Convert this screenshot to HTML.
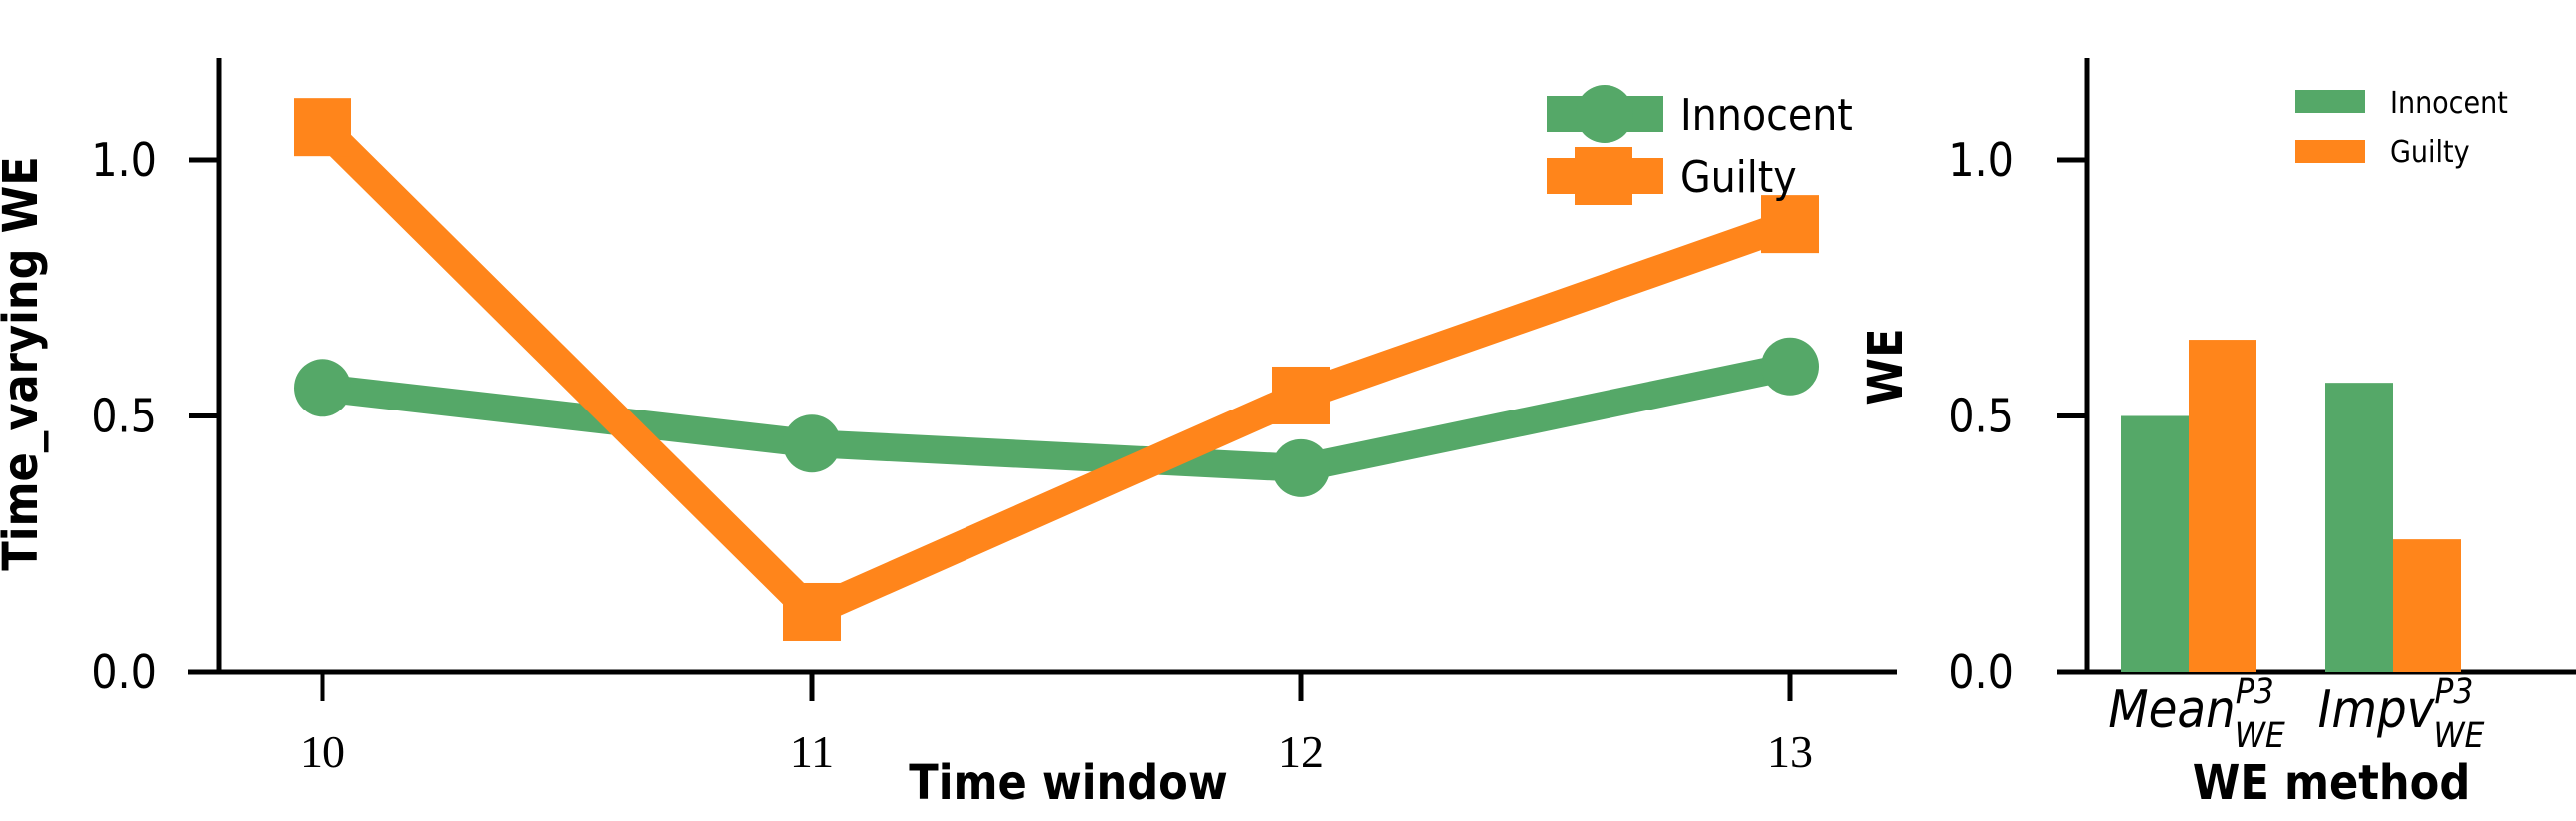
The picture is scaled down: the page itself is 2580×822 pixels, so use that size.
<!DOCTYPE html>
<html><head><meta charset="utf-8"><style>
html,body{margin:0;padding:0;background:#fff;}
svg{display:block;}
text{font-family:"DejaVu Sans Condensed","DejaVu Sans","Liberation Sans",sans-serif;fill:#000;}
</style></head><body>
<svg id="chart" width="2580" height="822" viewBox="0 0 2580 822" xmlns="http://www.w3.org/2000/svg">
<g id="left"></g>
<g id="right"></g>
</svg>
<script>
const windows = [10, 11, 12, 13];
const innocentLine = [0.555, 0.446, 0.398, 0.597];
const guiltyLine = [1.064, 0.117, 0.54, 0.875];
const yTicks = [0.0, 0.5, 1.0];
const yTickLabels = ["0.0", "0.5", "1.0"];
const methods = ["Mean", "Impv"];
const innocentBars = [0.50, 0.565];
const guiltyBars = [0.649, 0.259];

const NS = "http://www.w3.org/2000/svg";
function mk(parent, tag, attrs, txt) {
  const e = document.createElementNS(NS, tag);
  for (const k in attrs) e.setAttribute(k, attrs[k]);
  if (txt !== undefined) e.textContent = txt;
  parent.appendChild(e);
  return e;
}
const GREEN = "#55a868", ORANGE = "#ff851b";
const y = v => 673 - v * 513;
const xL = w => 323 + (w - 10) * 490;

// ---------- left chart ----------
const L = document.getElementById("left");
let e;
e = mk(L, "line", {x1: 219, y1: 58, x2: 219, y2: 675, stroke: "#000", "stroke-width": 5});


e = mk(L, "line", {x1: 188, y1: 673, x2: 1900, y2: 673, stroke: "#000", "stroke-width": 5});


yTicks.forEach((t, i) => {
  e = mk(L, "line", {x1: 189, y1: y(t), x2: 219, y2: y(t), stroke: "#000", "stroke-width": 5});
  
  
  e = mk(L, "text", {x: 157, y: y(t) + 16, "text-anchor": "end", "font-size": 46}, yTickLabels[i]);
  
  
});
windows.forEach(w => {
  e = mk(L, "line", {x1: xL(w), y1: 673, x2: xL(w), y2: 702, stroke: "#000", "stroke-width": 5});
  
  
  e = mk(L, "text", {x: xL(w), y: 768, "text-anchor": "middle", "font-size": 46, style: 'font-family:"Liberation Serif",serif'}, String(w));
  
  
});
// innocent
e = mk(L, "polyline", {points: windows.map((w, i) => xL(w) + "," + y(innocentLine[i])).join(" "), fill: "none", stroke: GREEN, "stroke-width": 28, "stroke-linejoin": "round"});


windows.forEach((w, i) => {
  e = mk(L, "circle", {cx: xL(w), cy: y(innocentLine[i]), r: 29, fill: GREEN});
  
  
});
// guilty
e = mk(L, "polyline", {points: windows.map((w, i) => xL(w) + "," + y(guiltyLine[i])).join(" "), fill: "none", stroke: ORANGE, "stroke-width": 30, "stroke-linejoin": "miter"});


windows.forEach((w, i) => {
  e = mk(L, "rect", {x: xL(w) - 29, y: y(guiltyLine[i]) - 29, width: 58, height: 58, fill: ORANGE});
  
  
});
// legend
e = mk(L, "line", {x1: 1549, y1: 114, x2: 1666, y2: 114, stroke: GREEN, "stroke-width": 36});


e = mk(L, "circle", {cx: 1607, cy: 114, r: 29, fill: GREEN});


e = mk(L, "text", {x: 1683, y: 130, "font-size": 44}, "Innocent");


e = mk(L, "line", {x1: 1549, y1: 176, x2: 1666, y2: 176, stroke: ORANGE, "stroke-width": 36});


e = mk(L, "rect", {x: 1577, y: 147, width: 58, height: 58, fill: ORANGE});


e = mk(L, "text", {x: 1683, y: 192, "font-size": 44}, "Guilty");


e = mk(L, "text", {x: 1070, y: 800, "text-anchor": "middle", "font-size": 48, "font-weight": "bold"}, "Time window");


e = mk(L, "text", {x: 0, y: 0, "text-anchor": "middle", "font-size": 48, "font-weight": "bold", transform: "translate(37,364) rotate(-90)"}, "Time_varying WE");



// ---------- right chart ----------
const R = document.getElementById("right");
const AX = 2090;
e = mk(R, "line", {x1: AX, y1: 58, x2: AX, y2: 675, stroke: "#000", "stroke-width": 5});


e = mk(R, "line", {x1: AX - 30, y1: 673, x2: 2580, y2: 673, stroke: "#000", "stroke-width": 5});


yTicks.forEach((t, i) => {
  e = mk(R, "line", {x1: AX - 30, y1: y(t), x2: AX, y2: y(t), stroke: "#000", "stroke-width": 5});
  
  
  e = mk(R, "text", {x: 2017, y: y(t) + 16, "text-anchor": "end", "font-size": 46}, yTickLabels[i]);
  
  
});
const groupCenter = i => 2192 + i * 205;
const BW = 68;
methods.forEach((m, i) => {
  const c = groupCenter(i);
  e = mk(R, "rect", {x: c - BW, y: y(innocentBars[i]), width: BW, height: 673 - y(innocentBars[i]), fill: GREEN});
  
  
  e = mk(R, "rect", {x: c, y: y(guiltyBars[i]), width: BW, height: 673 - y(guiltyBars[i]), fill: ORANGE});
  
  
  const t = mk(R, "text", {x: c + 8, y: 728, "text-anchor": "middle", "font-size": 52, "font-style": "italic"});
  
  
  mk(t, "tspan", {}, m);
  mk(t, "tspan", {"font-size": 35, dy: -24}, "P3");
  mk(t, "tspan", {"font-size": 35, dx: -40, dy: 44}, "WE");
});
e = mk(R, "rect", {x: 2299, y: 90, width: 70, height: 23, fill: GREEN});


e = mk(R, "text", {x: 2394, y: 113, "font-size": 30}, "Innocent");


e = mk(R, "rect", {x: 2299, y: 140, width: 70, height: 23, fill: ORANGE});


e = mk(R, "text", {x: 2394, y: 162, "font-size": 30}, "Guilty");


e = mk(R, "text", {x: 2335, y: 800, "text-anchor": "middle", "font-size": 48, "font-weight": "bold"}, "WE method");


e = mk(R, "text", {x: 0, y: 0, "text-anchor": "middle", "font-size": 48, "font-weight": "bold", transform: "translate(1905,367) rotate(-90)"}, "WE");


</script>
</body></html>
